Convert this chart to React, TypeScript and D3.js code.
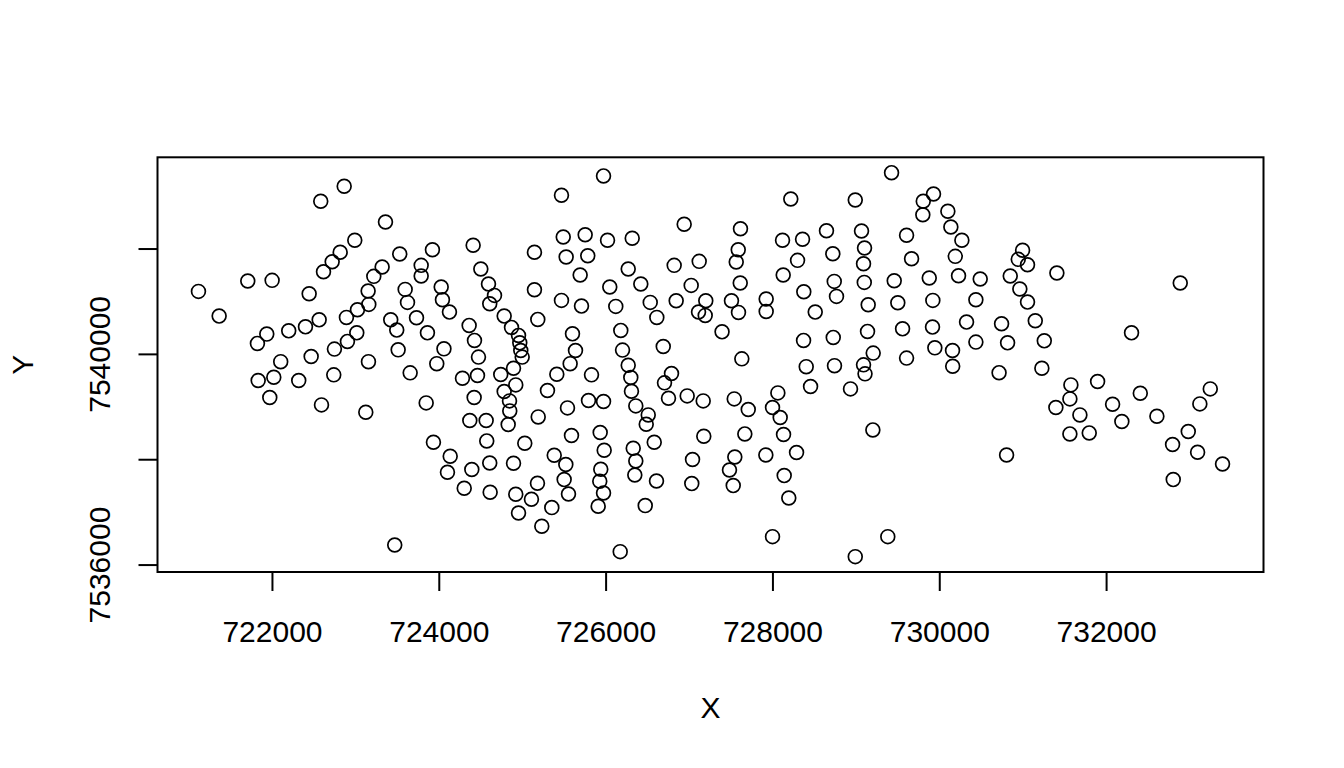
import React from "react";
import * as d3 from "d3";

const xValues: number[] = [
  722860, 722579, 723355, 722987, 722812, 722716, 722612, 723526, 723918, 723783,
  723783, 723315, 723215, 723147, 723155, 723019, 722887, 723591, 723619, 724023,
  724038, 724122, 723727, 723418, 723490, 723858, 723507, 724056, 723970, 723651,
  723151, 722735, 722743, 722899, 723011, 722560, 722396, 722195, 721932, 721820,
  722099, 722464, 722440, 721996, 721704, 721113, 721361, 722016,
  721829, 722315, 721968, 722588, 723119, 723843, 723930, 723466,
  725969, 725465, 726936, 725486, 725749, 726017, 726313, 724406, 725141, 725521,
  725780, 725689, 726265, 726816, 727116, 724498, 724590, 724662, 724605, 724778,
  724866, 724950, 724965, 724977, 724994, 724358, 724422, 724470, 725141, 725181,
  725465, 725705, 726044, 726116, 726416, 726529, 726608, 726840, 727020, 727195,
  727108, 727188, 727390, 725597, 725633, 725569, 726176, 726197, 726265, 726685,
  724278, 724458, 724737, 724890, 724418, 724778, 724917, 724842, 724845, 724826,
  724366, 724562, 724569, 725025, 724131, 724098, 724390, 724605, 724890, 724299,
  724610, 724917, 724950, 725105, 725177, 725349, 725229, 725378, 725517, 725497,
  725549, 725186, 725297, 725409, 725537, 725585, 725825, 725789, 725969, 725929,
  725977, 725936, 725924, 725969, 725905, 726296, 726304, 726356, 726505, 726481,
  726577, 726325, 726356, 726344, 726604, 726469, 726169, 726784, 726700, 726748,
  726972, 727164, 727171, 727036, 727027,
  729422, 728214, 728987, 729802, 729925, 729797, 730097, 730133, 730265, 729602,
  727611, 728115, 728355, 728642, 729062, 727584, 727560, 729098, 728718, 728295,
  729086, 729662, 730186, 727608, 728123, 728735, 729095, 729454, 729874, 730225,
  730485, 727503, 727587, 727919, 727919, 728370, 728507, 728762, 729142, 729497,
  729917, 730433, 728367, 728723, 729134, 729554, 729913, 730321, 730433, 729941,
  730153, 729202, 729602, 727627, 728399, 728738, 729086, 729104, 730155, 730711,
  728451, 728930, 727536, 727704, 728059, 727995, 728087, 727663, 728127, 729198,
  727543, 727479, 727524, 727915, 728283, 728135, 728190, 727995, 729377, 728987,
  730993, 730941, 731052, 730845, 731404, 732883, 730960, 731052, 730741, 731145,
  730813, 731253, 732299,
  731224, 731572, 731892, 731560, 731392, 731680, 731560, 731792, 732072, 732183,
  732404, 732603, 733243, 733118, 732979, 732791, 733091, 733390, 732799, 730801,
];

const yValues: number[] = [
  7543192, 7542907, 7542513, 7542166, 7541938, 7541759, 7541569, 7541905, 7541987, 7541690,
  7541487, 7541658, 7541481, 7541202, 7540949, 7540846, 7540702, 7541234, 7540987, 7541278,
  7541037, 7540803, 7540694, 7540656, 7540461, 7540409, 7540086, 7540105, 7539824, 7539649,
  7539862, 7539611, 7540100, 7540246, 7540409, 7540656, 7540523, 7540447, 7540385, 7540208,
  7539862, 7539961, 7541151, 7541405, 7541392, 7541196, 7540727, 7539567,
  7539505, 7539505, 7539182, 7539041, 7538902, 7539079, 7538332, 7536380,
  7543388, 7543021, 7542470, 7542228, 7542272, 7542166, 7542204, 7542071, 7541938, 7541848,
  7541873, 7541506, 7541620, 7541690, 7541766, 7541620, 7541335, 7541120, 7540961, 7540727,
  7540512, 7540360, 7540219, 7540075, 7539948, 7540550, 7540265, 7539948, 7541227, 7540664,
  7541025, 7540917, 7541278, 7540911, 7541335, 7540987, 7540702, 7541018, 7541310, 7541018,
  7540803, 7540740, 7540428, 7540390, 7540075, 7539824, 7540455, 7540081, 7539795, 7540151,
  7539548, 7539600, 7539619, 7539738, 7539182, 7539296, 7539421, 7539117, 7538927, 7538668,
  7538744, 7538744, 7538357, 7538313, 7538066, 7537762, 7537813, 7537939, 7537933, 7537458,
  7537382, 7537344, 7536988, 7537249, 7537553, 7537091, 7536736, 7538085, 7537908, 7537623,
  7537349, 7538813, 7539315, 7539624, 7538984, 7538459, 7539611, 7539125, 7539106, 7538516,
  7538180, 7537819, 7537591, 7537368, 7537116, 7539562, 7539301, 7539022, 7538851, 7538674,
  7538332, 7538218, 7537977, 7537711, 7537597, 7537129, 7536255, 7539638, 7539459, 7539168,
  7539212, 7539117, 7538446, 7538003, 7537547,
  7543450, 7542950, 7542931, 7542907, 7543046, 7542652, 7542717, 7542418, 7542166, 7542261,
  7542386, 7542166, 7542185, 7542348, 7542342, 7541987, 7541753, 7542019, 7541911, 7541785,
  7541721, 7541816, 7541861, 7541354, 7541506, 7541386, 7541367, 7541398, 7541449, 7541493,
  7541430, 7541018, 7540797, 7541050, 7540816, 7541189, 7540803, 7541101, 7540942, 7540980,
  7541025, 7541037, 7540265, 7540322, 7540436, 7540485, 7540518, 7540613, 7540233, 7540124,
  7540075, 7540024, 7539929, 7539915, 7539767, 7539786, 7539801, 7539630, 7539776, 7539653,
  7539391, 7539345, 7539155, 7538954, 7539269, 7538992, 7538802, 7538490, 7538478, 7538566,
  7538053, 7537806, 7537509, 7538091, 7538136, 7537699, 7537273, 7536540, 7536540, 7536160,
  7541976, 7541804, 7541702, 7541487, 7541544, 7541354, 7541240, 7540993, 7540581, 7540638,
  7540219, 7540257, 7540409,
  7539738, 7539421, 7539486, 7539155, 7538992, 7538851, 7538490, 7538509, 7539054, 7538725,
  7539263, 7538826, 7539345, 7539060, 7538535, 7538288, 7538142, 7537920, 7537623, 7538091,
];

const xTicks: number[] = [722000, 724000, 726000, 728000, 730000, 732000];
const yTicks: number[] = [7536000, 7538000, 7540000, 7542000];
const yTickLabels: string[] = ["7536000", "", "7540000", ""];
const xTitle = "X";
const yTitle = "Y";

const W = 1344;
const H = 768;
const left = 157.5;
const right = 1263.5;
const top = 157.3;
const bottom = 572;
const FONT = "'Liberation Sans', Arial, Helvetica, sans-serif";
const FS = 30;

function padded(vals: number[]): [number, number] {
  const [lo, hi] = d3.extent(vals) as [number, number];
  const p = (hi - lo) * 0.04;
  return [lo - p, hi + p];
}

export default function App() {
  const x = d3.scaleLinear().domain(padded(xValues)).range([left, right]);
  const y = d3.scaleLinear().domain(padded(yValues)).range([bottom, top]);
  const tickLen = 19;
  return (
    <svg
      width={W}
      height={H}
      style={{ position: "absolute", left: 0, top: 0, background: "#fff" }}
      fontFamily={FONT}
    >
      <rect x={0} y={0} width={W} height={H} fill="#fff" />
      {xValues.map((xv, i) => (
        <circle
          key={i}
          cx={x(xv)}
          cy={y(yValues[i])}
          r={6.9}
          fill="none"
          stroke="#000"
          strokeWidth={1.7}
        />
      ))}
      <rect
        x={left}
        y={top}
        width={right - left}
        height={bottom - top}
        fill="none"
        stroke="#000"
        strokeWidth={2}
      />
      {xTicks.map((t) => (
        <g key={"xt" + t}>
          <line x1={x(t)} x2={x(t)} y1={bottom} y2={bottom + tickLen} stroke="#000" strokeWidth={2} />
          <text x={x(t)} y={642} textAnchor="middle" fontSize={FS} fill="#000">
            {String(t)}
          </text>
        </g>
      ))}
      {yTicks.map((t, i) => (
        <g key={"yt" + t}>
          <line x1={left} x2={left - tickLen} y1={y(t)} y2={y(t)} stroke="#000" strokeWidth={2} />
          {yTickLabels[i] && (
            <text
              transform={`translate(110,${y(t)}) rotate(-90)`}
              textAnchor="middle"
              fontSize={FS}
              fill="#000"
            >
              {yTickLabels[i]}
            </text>
          )}
        </g>
      ))}
      <text x={(left + right) / 2} y={718} textAnchor="middle" fontSize={FS} fill="#000">
        {xTitle}
      </text>
      <text
        transform={`translate(33,${(top + bottom) / 2}) rotate(-90)`}
        textAnchor="middle"
        fontSize={FS}
        fill="#000"
      >
        {yTitle}
      </text>
    </svg>
  );
}
